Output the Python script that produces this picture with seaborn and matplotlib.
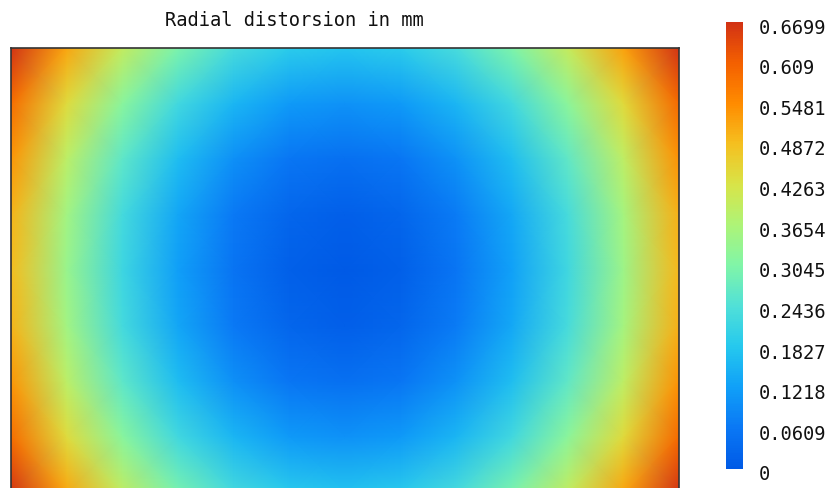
import numpy as np
import seaborn as sns
import matplotlib.pyplot as plt
import matplotlib.transforms as mtransforms
from matplotlib.colors import LinearSegmentedColormap

# Distortion (mm) along the horizontal centre line, left edge -> right edge
horizontal_profile = [0.490, 0.340, 0.218, 0.122, 0.054, 0.014, 0.0,
                      0.014, 0.055, 0.123, 0.220, 0.343, 0.495]
# Extra distortion (mm) along the vertical centre line, top edge -> bottom edge
vertical_profile = [0.178, 0.101, 0.045, 0.011, 0.0, 0.011, 0.045, 0.101, 0.176]

# Colour bar ticks
tick_values = [0, 0.0609, 0.1218, 0.1827, 0.2436, 0.3045, 0.3654,
               0.4263, 0.4872, 0.5481, 0.609, 0.6699]
tick_labels = ["0", "0.0609", "0.1218", "0.1827", "0.2436", "0.3045", "0.3654",
               "0.4263", "0.4872", "0.5481", "0.609", "0.6699"]

palette_colors = ["#005AE6", "#0A78F5", "#10A0F8", "#25C8EE", "#50E0D8", "#80F5A8",
                  "#ADF478", "#D8E448", "#F5C020", "#FF8C00", "#F46000", "#D23214"]


def plot_distortion():
    """
    Radial distortion map with a colour bar on the right.
    """
    cmap = LinearSegmentedColormap.from_list("distortion", palette_colors)

    # Distortion grid: sum of the two centre-line profiles
    field = np.add.outer(np.array(vertical_profile), np.array(horizontal_profile))
    xs = np.arange(len(horizontal_profile))
    ys = np.arange(len(vertical_profile))

    fig = plt.figure(figsize=(8.33, 4.88), dpi=100)
    # the map runs a few pixels past the bottom edge of the picture
    ax = fig.add_axes([11 / 833, -5 / 488, 668 / 833, 445 / 488])
    cax = fig.add_axes([726 / 833, 1 - 469 / 488, 17 / 833, 447 / 488])

    mesh = ax.pcolormesh(xs, ys, field, shading="gouraud", cmap=cmap,
                         vmin=0, vmax=tick_values[-1], rasterized=True)
    ax.set_xlim(xs[0], xs[-1])
    ax.set_ylim(ys[-1], ys[0])
    ax.set_xticks([])
    ax.set_yticks([])
    for spine in ax.spines.values():
        spine.set_visible(True)
        spine.set_color("#333333")
        spine.set_linewidth(1.2)

    cbar = fig.colorbar(mesh, cax=cax)
    cbar.outline.set_visible(False)
    cax.set_yticks(tick_values, tick_labels)
    cax.tick_params(length=0, pad=11, labelsize=13.5, labelcolor="#111111")
    shift = mtransforms.ScaledTranslation(0, -4 / 100, fig.dpi_scale_trans)
    for label in cax.get_yticklabels():
        label.set_transform(label.get_transform() + shift)

    fig.text(294 / 833, 1 - 20 / 488, "Radial distorsion in mm",
             ha="center", va="center", fontsize=13.5, color="#111111")

    plt.savefig("out.png", dpi=100)


if __name__ == "__main__":
    sns.set_theme(style="white")
    plt.rcParams["font.family"] = ["DejaVu Sans Mono"]
    plot_distortion()
